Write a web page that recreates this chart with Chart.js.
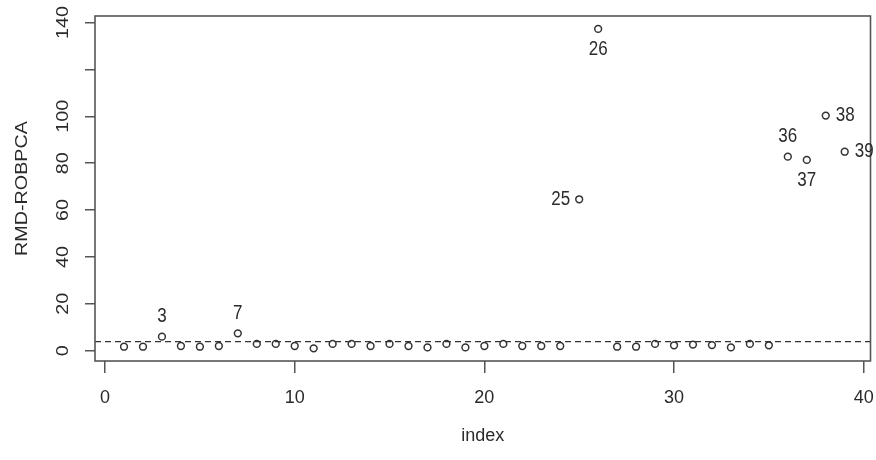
<!DOCTYPE html>
<html>
<head>
<meta charset="utf-8">
<script src="https://cdn.jsdelivr.net/npm/chart.js@4.4.1/dist/chart.umd.min.js"></script>
<style>
  html, body { margin: 0; padding: 0; background: #fff; }
</style>
</head>
<body>
<canvas id="rmdChart" width="876" height="460"></canvas>
<script>
// Data
const obsIndex = [1, 2, 3, 4, 5, 6, 7, 8, 9, 10, 11, 12, 13, 14, 15, 16, 17, 18, 19, 20,
    21, 22, 23, 24, 25, 26, 27, 28, 29, 30, 31, 32, 33, 34, 35, 36, 37, 38, 39];
const rmdValues = [1.7, 1.7, 6.0, 2.0, 1.7, 2.0, 7.4, 2.9, 2.9, 2.0, 1.0, 2.9, 2.9, 2.0, 2.9, 2.0, 1.4, 2.9, 1.4, 2.0,
    2.9, 2.0, 2.0, 2.0, 64.6, 137.3, 1.7, 1.7, 2.9, 2.3, 2.6, 2.4, 1.4, 2.9, 2.3, 82.8, 81.4, 100.3, 84.9];
const cutoff = 3.84;
const flagged = [3, 7, 25, 26, 36, 37, 38, 39];
const xTicks = [0, 10, 20, 30, 40];
const yTicks = [0, 20, 40, 60, 80, 100, 120, 140];
const yTickLabels = ['0', '20', '40', '60', '80', '100', '', '140'];

// Styling
const textColor = '#2a2a2a';
const axisColor = '#555555';
const fontFamily = '"Liberation Sans", Arial, sans-serif';
const stretchY = 1.16; // the original image is slightly taller than wide

// where the point labels sit relative to their point
const labelSide = { 3: 'top', 7: 'top', 25: 'left', 26: 'bottom', 36: 'top', 37: 'bottom', 38: 'right', 39: 'right' };

function drawText(ctx, text, x, y, align, baseline, rotate) {
    ctx.save();
    ctx.translate(x, y);
    ctx.scale(1, stretchY);
    if (rotate) ctx.rotate(-Math.PI / 2);
    ctx.textAlign = align;
    ctx.textBaseline = baseline;
    ctx.fillText(text, 0, 0);
    ctx.restore();
}

const rPlotExtras = {
    id: 'rPlotExtras',
    beforeDatasetsDraw(chart) {
        const { ctx, chartArea, scales } = chart;
        const y = scales.y.getPixelForValue(cutoff);
        ctx.save();
        ctx.strokeStyle = '#333';
        ctx.lineWidth = 1.3;
        ctx.setLineDash([6, 4]);
        ctx.beginPath();
        ctx.moveTo(chartArea.left, y);
        ctx.lineTo(chartArea.right, y);
        ctx.stroke();
        ctx.restore();
    },
    afterDraw(chart) {
        const { ctx, chartArea, scales } = chart;
        ctx.save();
        // box around the plot region
        ctx.strokeStyle = axisColor;
        ctx.lineWidth = 1.6;
        ctx.strokeRect(chartArea.left, chartArea.top, chartArea.right - chartArea.left, chartArea.bottom - chartArea.top);

        ctx.fillStyle = textColor;
        ctx.font = '17px ' + fontFamily;

        // y tick labels, rotated like R's default las=0
        yTicks.forEach((v, i) => {
            if (!yTickLabels[i]) return;
            drawText(ctx, yTickLabels[i], 63, scales.y.getPixelForValue(v), 'center', 'middle', true);
        });

        // y axis title
        drawText(ctx, 'RMD-ROBPCA', 22, (chartArea.top + chartArea.bottom) / 2, 'center', 'middle', true);

        // labels for the flagged observations
        flagged.forEach(idx => {
            const px = scales.x.getPixelForValue(obsIndex[idx - 1]);
            const py = scales.y.getPixelForValue(rmdValues[idx - 1]);
            const side = labelSide[idx];
            if (side === 'top') drawText(ctx, String(idx), px, py - 20, 'center', 'middle');
            else if (side === 'bottom') drawText(ctx, String(idx), px, py + 21, 'center', 'middle');
            else if (side === 'left') drawText(ctx, String(idx), px - 9, py, 'right', 'middle');
            else drawText(ctx, String(idx), px + 10, py, 'left', 'middle');
        });
        ctx.restore();
    }
};

function initializeChart() {
    const ctx = document.getElementById('rmdChart').getContext('2d');
    new Chart(ctx, {
        type: 'scatter',
        data: {
            datasets: [{
                label: 'RMD-ROBPCA',
                data: obsIndex.map((x, i) => ({ x: x, y: rmdValues[i] })),
                pointStyle: 'circle',
                pointRadius: 3.4,
                pointBorderWidth: 1.5,
                borderColor: '#333',
                backgroundColor: 'rgba(255, 255, 255, 0)'
            }]
        },
        options: {
            responsive: false,
            animation: false,
            layout: {
                padding: { top: 16, right: 3, left: 0, bottom: 0 }
            },
            plugins: {
                legend: { display: false },
                tooltip: { enabled: false }
            },
            scales: {
                x: {
                    type: 'linear',
                    min: -0.53,
                    max: 40.36,
                    afterBuildTicks: scale => { scale.ticks = xTicks.map(v => ({ value: v })); },
                    afterFit: scale => {
                        scale.height = 99;
                        // the last tick label may hang over the edge, as in the original
                        scale.paddingLeft = 0;
                        scale.paddingRight = 0;
                    },
                    border: { display: false },
                    grid: {
                        drawOnChartArea: false,
                        drawTicks: true,
                        tickLength: 12,
                        color: axisColor,
                        lineWidth: 1.5
                    },
                    ticks: {
                        color: textColor,
                        padding: 14,
                        maxRotation: 0,
                        font: { family: fontFamily, size: 18 }
                    },
                    title: {
                        display: true,
                        text: 'index',
                        color: textColor,
                        font: { family: fontFamily, size: 18 },
                        padding: { top: 0, bottom: 13 }
                    }
                },
                y: {
                    type: 'linear',
                    min: -4.4,
                    max: 142.8,
                    afterBuildTicks: scale => { scale.ticks = yTicks.map(v => ({ value: v })); },
                    afterFit: scale => {
                        scale.width = 95;
                        scale.paddingTop = 0;
                        scale.paddingBottom = 0;
                    },
                    border: { display: false },
                    grid: {
                        drawOnChartArea: false,
                        drawTicks: true,
                        tickLength: 10,
                        color: axisColor,
                        lineWidth: 1.5
                    },
                    ticks: { display: false }
                }
            }
        },
        plugins: [rPlotExtras]
    });
}

document.addEventListener('DOMContentLoaded', initializeChart);
</script>
</body>
</html>
